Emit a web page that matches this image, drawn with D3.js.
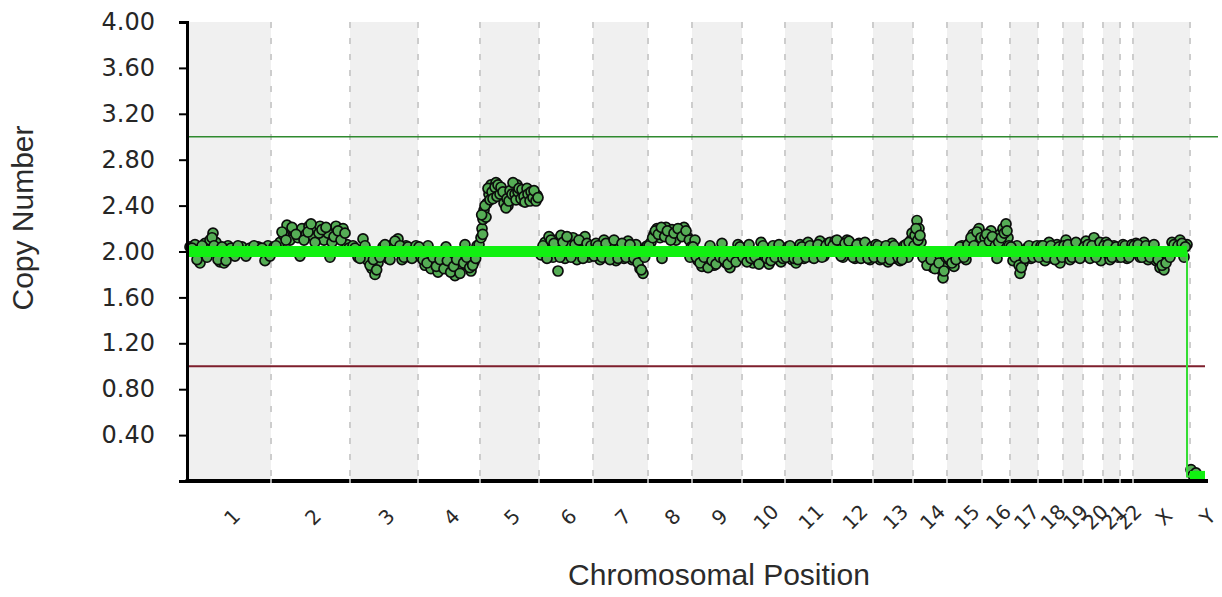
<!DOCTYPE html>
<html>
<head>
<meta charset="utf-8">
<script src="https://cdn.jsdelivr.net/npm/d3@7"></script>
<style>
  body { margin: 0; background: #fff; }
  svg { display: block; }
  .y.axis text { font-family: "DejaVu Sans", sans-serif; font-size: 24px; fill: #262626; }
  .x.axis text { font-family: "DejaVu Sans", sans-serif; font-size: 20px; fill: #2a2a2a; }
  .title { font-family: "Liberation Sans", Arial, sans-serif; font-size: 30px; fill: #2b2b2b; }
</style>
</head>
<body>
<svg width="1222" height="597"></svg>
<script>
// chromosome names and lengths (Mb) as laid out on the x axis
const chromosomes = ["1", "2", "3", "4", "5", "6", "7", "8", "9", "10", "11", "12",
  "13", "14", "15", "16", "17", "18", "19", "20", "21", "22", "X", "Y"];
const chromLengths = [249, 237, 204, 186, 177, 162, 165, 132, 150, 129, 141, 123,
  120, 102, 105, 84, 84, 75, 60, 60, 51, 39, 171, 90];

const yTicks = [0.4, 0.8, 1.2, 1.6, 2.0, 2.4, 2.8, 3.2, 3.6, 4.0];
const gainThreshold = 3.0;
const lossThreshold = 1.0;

// probe points: [position in chromosome (Mb), copy number]
const chr1Points = [[6, 2.04], [21, 2.06], [36, 1.90], [51, 2.07], [66, 2.10], [75, 2.16], [84, 2.08],
  [96, 1.91], [108, 1.90], [120, 2.05], [141, 1.96], [162, 2.04], [186, 2.03], [210, 2.04], [231, 1.92], [240, 2.05],
  [12, 2.03], [27, 1.93], [42, 2.05], [57, 1.95], [72, 2.12], [78, 2.05], [90, 1.93], [102, 2.04], [114, 1.92],
  [129, 2.03], [150, 2.05], [174, 1.96], [198, 2.05], [222, 2.03], [246, 1.96]];
const chr2Points = [[9, 2.04], [27, 2.08], [39, 2.14], [48, 2.23], [57, 2.10], [69, 2.18], [81, 2.12], [87, 1.96],
  [93, 2.20], [105, 2.15], [114, 2.22], [126, 2.13], [138, 2.19], [147, 2.22], [159, 2.10], [171, 2.16], [177, 1.95],
  [183, 2.08], [195, 2.22], [204, 2.14], [216, 2.20], [228, 2.06],
  [15, 2.05], [33, 2.17], [45, 2.10], [63, 2.21], [75, 2.15], [99, 2.10], [111, 2.17], [120, 2.24], [132, 2.08],
  [144, 2.16], [153, 2.19], [165, 2.21], [189, 2.13], [201, 2.18], [210, 2.10], [222, 2.16], [234, 2.03]];
const chr3Points = [[9, 2.05], [24, 1.95], [39, 2.11], [54, 1.92], [66, 1.85], [75, 1.80], [84, 1.90], [99, 2.04],
  [114, 1.94], [129, 2.06], [144, 2.11], [156, 1.93], [168, 2.05], [180, 1.95], [192, 2.03],
  [15, 2.03], [30, 1.94], [45, 2.05], [60, 1.88], [70, 1.93], [80, 1.84], [90, 1.95], [105, 2.06], [120, 1.93],
  [135, 2.09], [150, 2.05], [162, 1.95], [174, 2.04], [186, 1.94], [198, 2.05]];
const chr4Points = [[9, 1.95], [21, 1.88], [30, 2.05], [39, 1.85], [51, 1.91], [60, 1.82], [72, 1.88], [84, 2.04],
  [93, 1.84], [102, 1.90], [111, 1.79], [120, 1.86], [132, 1.93], [141, 2.06], [150, 1.88], [159, 1.83], [168, 1.91], [177, 2.05],
  [3, 2.04], [15, 1.93], [27, 1.90], [45, 1.95], [55, 1.87], [66, 1.93], [78, 1.85], [88, 1.92], [98, 1.82],
  [107, 1.87], [116, 1.93], [126, 1.81], [137, 1.90], [146, 1.95], [155, 1.86], [164, 1.88], [173, 1.94], [183, 2.06]];
const chr5Points = [[3, 2.12], [6, 2.20], [9, 2.28], [12, 2.36], [18, 2.30], [21, 2.42], [27, 2.50], [33, 2.58],
  [42, 2.52], [48, 2.60], [57, 2.55], [66, 2.48], [75, 2.44], [84, 2.40], [93, 2.47], [102, 2.56], [111, 2.58],
  [120, 2.50], [129, 2.44], [138, 2.52], [147, 2.46], [156, 2.50], [165, 2.45], [171, 2.49],
  [5, 2.32], [8, 2.15], [15, 2.40], [24, 2.55], [30, 2.45], [36, 2.52], [39, 2.46], [45, 2.56], [51, 2.48],
  [54, 2.58], [60, 2.50], [63, 2.56], [69, 2.52], [72, 2.42], [78, 2.38], [81, 2.46], [87, 2.44], [90, 2.53],
  [96, 2.50], [99, 2.60], [105, 2.50], [108, 2.45], [114, 2.52], [117, 2.55], [123, 2.46], [126, 2.54], [132, 2.48],
  [135, 2.43], [141, 2.55], [144, 2.50], [150, 2.44], [153, 2.52], [159, 2.47], [162, 2.53], [168, 2.44], [174, 2.47]];
const chr6Points = [[6, 1.97], [18, 2.08], [30, 2.13], [42, 1.95], [51, 2.10], [57, 1.83], [66, 2.14], [78, 1.94],
  [90, 2.08], [102, 2.12], [114, 1.93], [126, 2.09], [138, 2.13], [150, 1.95],
  [12, 2.05], [24, 1.94], [36, 2.10], [45, 2.07], [63, 1.95], [72, 2.08], [84, 2.13], [96, 1.95], [108, 2.06],
  [120, 2.10], [132, 1.94], [144, 2.07], [156, 2.05]];
const chr7Points = [[9, 2.07], [21, 1.93], [33, 2.10], [45, 1.95], [57, 2.08], [69, 1.92], [81, 2.05], [93, 1.94],
  [105, 2.09], [117, 1.93], [129, 2.06], [141, 1.85], [150, 1.81], [159, 2.04],
  [3, 1.96], [15, 2.05], [27, 1.95], [39, 2.07], [51, 1.93], [63, 2.10], [75, 1.94], [87, 2.07], [99, 1.95],
  [111, 2.06], [123, 1.94], [135, 1.90], [145, 1.84], [155, 1.95], [163, 2.05]];
const chr8Points = [[9, 2.08], [18, 2.15], [27, 2.20], [36, 2.12], [42, 1.94], [45, 2.18], [54, 2.21], [63, 2.14],
  [72, 2.19], [84, 2.10], [96, 2.17], [108, 2.21], [120, 2.12], [126, 1.95],
  [3, 2.05], [14, 2.12], [22, 2.18], [31, 2.15], [40, 2.21], [50, 2.13], [58, 2.18], [68, 2.10], [78, 2.16],
  [90, 2.20], [102, 2.13], [114, 2.18], [124, 2.10], [130, 2.04]];
const chr9Points = [[9, 2.10], [18, 1.92], [30, 1.87], [42, 1.93], [54, 2.05], [66, 1.88], [78, 1.94], [90, 2.07],
  [102, 1.90], [114, 1.86], [126, 1.93], [138, 2.06],
  [3, 2.04], [13, 1.95], [24, 1.90], [36, 1.95], [48, 1.86], [60, 1.92], [72, 1.89], [84, 1.95], [96, 1.93],
  [108, 1.89], [120, 1.95], [132, 1.91], [144, 2.04]];
const chr10Points = [[9, 1.94], [21, 2.06], [33, 1.90], [45, 1.92], [57, 2.08], [69, 1.93], [81, 1.89], [93, 2.05],
  [105, 1.94], [117, 1.91],
  [3, 1.95], [15, 1.91], [27, 1.94], [39, 1.95], [51, 1.89], [63, 2.05], [75, 1.94], [87, 1.92], [99, 1.95],
  [111, 2.06], [123, 1.94]];
const chr11Points = [[9, 2.04], [21, 1.93], [33, 1.90], [45, 2.06], [57, 1.94], [69, 2.08], [81, 1.95], [93, 2.05],
  [105, 2.09], [117, 1.96], [129, 2.07],
  [3, 1.95], [15, 2.05], [27, 1.94], [39, 1.93], [51, 2.04], [63, 1.95], [75, 2.05], [87, 1.94], [99, 2.06],
  [111, 1.95], [123, 2.05], [135, 2.08]];
const chr12Points = [[9, 2.09], [21, 2.05], [33, 1.95], [45, 2.10], [57, 2.06], [69, 1.94], [81, 2.07], [93, 1.95],
  [105, 2.05], [114, 1.93],
  [3, 2.05], [15, 2.10], [27, 1.96], [39, 2.07], [51, 2.09], [63, 1.95], [75, 2.06], [87, 1.94], [99, 2.08],
  [108, 1.94], [120, 2.04]];
const chr13Points = [[9, 2.06], [21, 1.93], [33, 2.04], [45, 1.91], [57, 2.07], [69, 1.94], [81, 1.92], [93, 2.05],
  [105, 1.95], [114, 2.10],
  [3, 1.95], [15, 2.05], [27, 1.94], [39, 2.05], [51, 1.93], [63, 2.05], [75, 1.95], [87, 1.93], [99, 2.06],
  [108, 2.08], [117, 2.16]];
const chr14Points = [[6, 2.14], [12, 2.27], [18, 2.20], [24, 2.08], [36, 1.94], [48, 1.90], [60, 1.86], [72, 1.93],
  [84, 1.84], [90, 1.77], [96, 1.90],
  [3, 2.05], [9, 2.20], [15, 2.10], [21, 2.14], [30, 1.95], [42, 1.88], [54, 1.93], [66, 1.85], [78, 1.90],
  [93, 1.83], [99, 1.95]];
const chr15Points = [[9, 1.92], [21, 1.87], [33, 1.95], [45, 2.05], [57, 1.93], [69, 2.08], [78, 2.15], [87, 2.10], [96, 2.20],
  [3, 1.95], [15, 1.90], [27, 1.93], [39, 2.04], [51, 1.95], [63, 2.06], [72, 2.12], [81, 2.05], [90, 2.17], [102, 2.12]];
const chr16Points = [[9, 2.12], [18, 2.05], [27, 2.18], [36, 2.10], [45, 1.94], [54, 2.15], [63, 2.20], [72, 2.24], [78, 2.12],
  [3, 2.05], [14, 2.15], [22, 2.09], [31, 2.13], [40, 2.05], [50, 2.08], [58, 2.12], [67, 2.16], [75, 2.18], [81, 2.05]];
const chr17Points = [[9, 1.92], [21, 2.05], [30, 1.81], [39, 1.90], [51, 2.03], [63, 1.94], [75, 2.04],
  [3, 2.04], [15, 1.95], [27, 1.88], [34, 1.86], [45, 1.94], [57, 2.05], [69, 1.95], [81, 2.05]];
const chr18Points = [[9, 2.05], [21, 1.92], [33, 2.08], [45, 1.94], [57, 2.06], [66, 1.90],
  [3, 1.95], [15, 2.05], [27, 1.95], [39, 2.05], [51, 1.93], [63, 2.04], [72, 1.95]];
const chr19Points = [[9, 2.10], [21, 1.93], [33, 2.06], [45, 1.95], [54, 2.04],
  [3, 2.05], [15, 2.06], [27, 1.95], [39, 2.08], [51, 1.94]];
const chr20Points = [[9, 2.09], [21, 1.94], [33, 2.12], [45, 2.06], [54, 1.92],
  [3, 2.04], [15, 2.06], [27, 2.05], [39, 1.95], [51, 2.08]];
const chr21Points = [[9, 2.08], [21, 1.93], [33, 2.05], [45, 1.95],
  [3, 2.05], [15, 2.06], [27, 1.95], [39, 2.04]];
const chr22Points = [[9, 2.06], [21, 1.94], [33, 2.05],
  [3, 1.95], [15, 2.05], [27, 1.95], [36, 2.06]];
const chrXPoints = [[9, 2.07], [21, 1.95], [33, 2.08], [45, 1.93], [57, 2.05], [69, 1.92], [81, 1.86], [93, 1.84],
  [105, 1.94], [117, 2.08], [129, 2.04], [141, 2.10], [153, 1.95], [162, 2.06],
  [3, 2.05], [15, 2.06], [27, 1.95], [39, 2.05], [51, 1.95], [63, 2.06], [75, 1.93], [87, 1.88], [99, 1.90],
  [111, 1.95], [123, 2.06], [135, 2.05], [147, 2.07], [157, 2.04]];
const chrYPoints = [[3, 0.10], [9, 0.05], [18, 0.07]];

const pointSets = [chr1Points, chr2Points, chr3Points, chr4Points, chr5Points, chr6Points, chr7Points,
  chr8Points, chr9Points, chr10Points, chr11Points, chr12Points, chr13Points, chr14Points, chr15Points,
  chr16Points, chr17Points, chr18Points, chr19Points, chr20Points, chr21Points, chr22Points, chrXPoints, chrYPoints];

// segmentation calls: chromosome, start (Mb), end (Mb), copy number
const segChrom = ["1", "2", "3", "4", "5", "6", "7", "8", "9", "10", "11", "12", "13", "14", "15", "16",
  "17", "18", "19", "20", "21", "22", "X", "Y"];
const segStart = [0, 0, 0, 0, 0, 0, 0, 0, 0, 0, 0, 0, 0, 0, 0, 0, 0, 0, 0, 0, 0, 0, 0, 0];
const segEnd = [249, 237, 204, 186, 177, 162, 165, 132, 150, 129, 141, 123, 120, 102, 105, 84, 84, 75, 60, 60, 51, 39, 162, 45];
const segValue = [2, 2, 2, 2, 2, 2, 2, 2, 2, 2, 2, 2, 2, 2, 2, 2, 2, 2, 2, 2, 2, 2, 2, 0.04];

let svg = d3.select("svg");
let plotLeft = 188, plotRight = 1220, plotTop = 22, plotBottom = 481;

// chromosome offsets along the genome
let offsets = {};
let acc = 0;
chromosomes.forEach(function(c, i) {
  offsets[c] = acc;
  acc += chromLengths[i];
});
let genomeLength = acc;

let x = d3.scaleLinear().domain([0, genomeLength]).range([plotLeft, plotRight]);
let y = d3.scaleLinear().domain([0, 4]).range([plotBottom, plotTop]);

// BANDS
let chromData = chromosomes.map(function(c, i) {
  return { name: c, start: offsets[c], end: offsets[c] + chromLengths[i], idx: i };
});

svg.append("g")
  .selectAll("rect")
  .data(chromData)
  .enter()
  .append("rect")
  .attr("x", function(d) { return x(d.start); })
  .attr("y", plotTop)
  .attr("width", function(d) { return x(d.end) - x(d.start); })
  .attr("height", plotBottom - plotTop)
  .attr("fill", function(d) { return d.idx % 2 === 0 ? "#f0f0f0" : "#ffffff"; });

// dashed chromosome boundaries
svg.append("g")
  .selectAll("line")
  .data(chromData.slice(0, chromData.length - 1))
  .enter()
  .append("line")
  .attr("x1", function(d) { return x(d.end); })
  .attr("x2", function(d) { return x(d.end); })
  .attr("y1", plotTop)
  .attr("y2", plotBottom)
  .attr("stroke", "#cdcdcd")
  .attr("stroke-width", 2)
  .attr("stroke-dasharray", "6,10");

// threshold lines
svg.append("line")
  .attr("x1", plotLeft).attr("x2", plotRight - 2)
  .attr("y1", y(gainThreshold)).attr("y2", y(gainThreshold))
  .attr("stroke", "#2f8a2f").attr("stroke-width", 1.5);
svg.append("line")
  .attr("x1", plotLeft).attr("x2", plotRight - 15)
  .attr("y1", y(lossThreshold)).attr("y2", y(lossThreshold))
  .attr("stroke", "#7e1f2c").attr("stroke-width", 2);

// POINTS
let points = [];
pointSets.forEach(function(set, i) {
  set.forEach(function(p) {
    points.push({ pos: offsets[chromosomes[i]] + p[0], value: p[1] });
  });
});

svg.append("g")
  .selectAll("circle")
  .data(points)
  .enter()
  .append("circle")
  .attr("cx", function(d) { return x(d.pos); })
  .attr("cy", function(d) { return y(d.value); })
  .attr("r", 5)
  .attr("fill", "#55ad55")
  .attr("stroke", "#0c0c0c")
  .attr("stroke-width", 1.7);

// SEGMENTS
let segments = segChrom.map(function(c, i) {
  return { start: offsets[c] + segStart[i], end: offsets[c] + segEnd[i], value: segValue[i] };
});

// connector between the last two calls
let lastSeg = segments[segments.length - 1], prevSeg = segments[segments.length - 2];
svg.append("path")
  .attr("d", d3.line()([
    [x(prevSeg.end), y(prevSeg.value)],
    [x(prevSeg.end), y(lastSeg.value)],
    [x(lastSeg.start), y(lastSeg.value)]
  ]))
  .attr("fill", "none")
  .attr("stroke", "#33dd33")
  .attr("stroke-width", 2);

svg.append("g")
  .selectAll("line")
  .data(segments)
  .enter()
  .append("line")
  .attr("x1", function(d) { return x(d.start); })
  .attr("x2", function(d) { return x(d.end); })
  .attr("y1", function(d) { return y(d.value); })
  .attr("y2", function(d) { return y(d.value); })
  .attr("stroke", "#11f011")
  .attr("stroke-width", 11);

// AXES
let yAxis = svg.append("g")
  .attr("class", "y axis")
  .attr("transform", "translate(" + (plotLeft - 1) + ",0)")
  .call(d3.axisLeft(y).tickValues(yTicks).tickFormat(d3.format(".2f")).tickSize(8).tickPadding(24));
yAxis.select(".domain").attr("stroke", "#000").attr("stroke-width", 3);
yAxis.selectAll(".tick line").attr("stroke", "#000").attr("stroke-width", 2);

let xAxis = svg.append("g")
  .attr("class", "x axis")
  .attr("transform", "translate(0," + plotBottom + ")")
  .call(d3.axisBottom(x)
    .tickValues(chromData.map(function(d) { return (d.start + d.end) / 2; }))
    .tickFormat(function(d, i) { return chromosomes[i]; })
    .tickSize(0)
    .tickSizeOuter(0));
xAxis.select(".domain").attr("stroke", "#000").attr("stroke-width", 4)
  .attr("d", "M" + (plotLeft - 2.5) + ",0H" + (plotRight - 12));
xAxis.selectAll(".tick text")
  .attr("y", 0)
  .attr("dy", "0.35em")
  .attr("text-anchor", "middle")
  .attr("transform", "translate(2,36) rotate(-45)");

// light gaps where the boundaries cross the x axis
svg.append("g")
  .selectAll("line")
  .data(chromData.slice(0, chromData.length - 2))
  .enter()
  .append("line")
  .attr("x1", function(d) { return x(d.end); })
  .attr("x2", function(d) { return x(d.end); })
  .attr("y1", plotBottom - 2)
  .attr("y2", plotBottom + 2)
  .attr("stroke", "#d8d8d8")
  .attr("stroke-width", 1.5);

// TITLES
svg.append("text")
  .attr("class", "title")
  .attr("x", 719)
  .attr("y", 585)
  .attr("text-anchor", "middle")
  .text("Chromosomal Position");

svg.append("text")
  .attr("class", "title")
  .attr("transform", "translate(33,218) rotate(-90)")
  .attr("text-anchor", "middle")
  .text("Copy Number");
</script>
</body>
</html>
